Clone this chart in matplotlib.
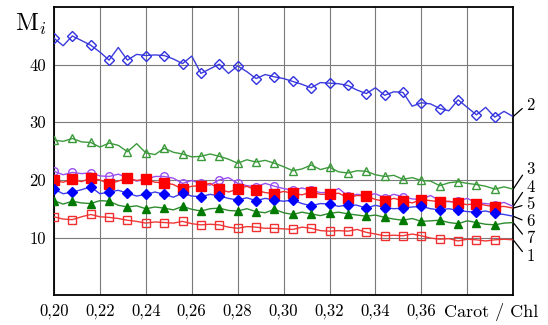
#!/usr/bin/env python3
"""Pigment index curves M_i against Carot/Chl."""

import matplotlib
matplotlib.use('Agg')
import matplotlib.pyplot as plt

plt.rcParams['font.family'] = ['cmr10', 'DejaVu Serif']
plt.rcParams['mathtext.fontset'] = 'cm'
plt.rcParams['axes.formatter.use_mathtext'] = True

# marker positions every 0.008, line points every 0.004
x_marks = [0.200, 0.208, 0.216, 0.224, 0.232, 0.240, 0.248, 0.256, 0.264,
           0.272, 0.280, 0.288, 0.296, 0.304, 0.312, 0.320, 0.328, 0.336,
           0.344, 0.352, 0.360, 0.368, 0.376, 0.384, 0.392]
x_between = [0.204, 0.212, 0.220, 0.228, 0.236, 0.244, 0.252, 0.260, 0.268,
             0.276, 0.284, 0.292, 0.300, 0.308, 0.316, 0.324, 0.332, 0.340,
             0.348, 0.356, 0.364, 0.372, 0.380, 0.388, 0.396, 0.400]

# values at markers and the jagged values in between (last one = line end)
s1_marks = [13.6, 13.1, 14.0, 13.5, 13.0, 12.5, 12.6, 12.8, 12.2, 12.2, 11.6, 11.8, 11.6,
            11.4, 11.6, 11.1, 11.1, 10.9, 10.3, 10.3, 10.3, 9.7, 9.4, 9.6, 9.6]
s1_between = [13.2, 13.6, 13.6, 13.3, 12.8, 12.7, 12.5, 12.4, 12.3, 11.8, 11.9, 11.6, 11.5,
              11.8, 11.2, 11.2, 11.4, 10.6, 10.4, 10.6, 9.9, 9.8, 9.7, 9.4, 9.7, 9.6]

s2_marks = [44.6, 45.0, 43.4, 40.8, 40.8, 41.6, 41.6, 40.2, 38.5, 40.1, 39.8, 37.6, 37.9,
            37.1, 36.0, 36.8, 36.4, 35.0, 34.7, 35.2, 33.4, 32.4, 33.9, 31.3, 30.9]
s2_between = [43.3, 44.2, 42.2, 43.0, 41.8, 41.7, 41.0, 41.5, 39.3, 38.5, 38.8, 38.3, 37.6,
              36.6, 36.9, 36.7, 35.6, 36.0, 35.3, 32.8, 33.2, 32.0, 32.6, 32.6, 31.9, 31.0]

s3_marks = [26.9, 27.2, 26.5, 26.4, 24.9, 24.7, 25.5, 24.5, 24.1, 24.1, 22.9, 23.1, 22.9,
            21.6, 22.6, 22.2, 21.2, 21.5, 20.6, 20.1, 19.9, 19.0, 19.7, 19.2, 18.4]
s3_between = [26.7, 26.6, 25.7, 26.0, 26.3, 24.4, 24.8, 24.0, 24.5, 23.6, 23.5, 23.4, 22.3,
              21.9, 21.8, 21.4, 21.6, 20.9, 20.8, 20.4, 19.8, 19.5, 19.4, 18.9, 18.8, 18.4]

s4_marks = [21.5, 21.3, 21.2, 20.6, 20.4, 20.1, 20.6, 19.4, 19.4, 20.0, 19.4, 18.8, 18.9,
            18.2, 18.2, 17.8, 17.2, 17.3, 16.9, 17.1, 16.6, 16.4, 16.3, 16.0, 15.7]
s4_between = [20.9, 21.1, 20.7, 21.0, 19.8, 20.6, 20.3, 19.9, 19.1, 20.4, 19.0, 19.4, 18.5,
              18.6, 17.8, 18.5, 17.5, 17.6, 17.5, 16.7, 17.3, 16.2, 16.8, 15.9, 16.1, 15.4]

s5_marks = [19.9, 20.1, 20.3, 19.3, 20.3, 20.1, 19.5, 18.4, 19.0, 18.4, 18.4, 18.2, 17.6,
            17.7, 17.9, 17.5, 16.9, 17.2, 16.3, 16.4, 16.6, 16.2, 16.0, 15.9, 15.3]
s5_between = [19.6, 19.7, 20.0, 19.8, 19.9, 19.6, 19.2, 18.9, 19.4, 17.9, 18.9, 17.8, 18.0,
              17.4, 17.5, 17.7, 17.3, 16.6, 16.8, 16.0, 16.4, 16.3, 15.7, 15.6, 15.4, 15.1]

s6_marks = [18.4, 17.9, 18.8, 17.9, 17.7, 17.5, 17.5, 17.7, 17.1, 17.2, 16.5, 16.4, 16.5,
            16.5, 15.5, 15.8, 15.7, 15.1, 15.2, 15.1, 15.4, 14.8, 14.7, 14.4, 14.2]
s6_between = [17.6, 18.3, 17.6, 18.2, 17.2, 17.9, 17.0, 17.2, 17.5, 16.8, 16.9, 16.8, 16.3,
              15.9, 15.9, 15.4, 15.6, 15.6, 15.0, 15.3, 15.0, 15.0, 14.5, 14.6, 14.0, 13.7]

s7_marks = [16.4, 16.3, 15.9, 16.3, 15.3, 15.0, 15.1, 15.4, 14.6, 15.1, 14.6, 14.5, 14.9,
            14.0, 14.1, 14.2, 14.1, 13.7, 13.5, 13.0, 12.8, 13.0, 12.4, 12.6, 12.2]
s7_between = [15.8, 16.0, 16.4, 15.6, 15.5, 15.3, 14.8, 14.9, 15.0, 14.7, 15.0, 14.3, 14.3,
              14.4, 13.8, 14.4, 13.9, 13.9, 13.2, 13.3, 12.9, 12.6, 12.9, 12.3, 12.5, 12.6]

x_grid = [0.20, 0.22, 0.24, 0.26, 0.28, 0.30, 0.32, 0.34, 0.36, 0.38]
x_tick_labels = ['0,20', '0,22', '0,24', '0,26', '0,28', '0,30', '0,32', '0,34', '0,36', '']
y_ticks = [10, 20, 30, 40]

# label, marks, between, line colour, marker, marker face, marker edge, size, label y (axes frac)
series = [
    ('2', s2_marks, s2_between, '#3c3cdc', 'D', 'none', '#3030e0', 5.0, 0.66),
    ('3', s3_marks, s3_between, '#3c9a3c', '^', 'none', '#3a9a3a', 5.5, 0.435),
    ('4', s4_marks, s4_between, '#9a50f0', 'o', 'none', '#9a50f0', 5.5, 0.375),
    ('5', s5_marks, s5_between, '#f03030', 's', '#ff0000', '#ff0000', 6.5, 0.315),
    ('6', s6_marks, s6_between, '#3c3cec', 'D', '#0000ff', '#0000ff', 4.8, 0.255),
    ('7', s7_marks, s7_between, '#2e8a2e', '^', '#007a00', '#007a00', 5.5, 0.196),
    ('1', s1_marks, s1_between, '#f03838', 's', 'none', '#f03030', 5.5, 0.135),
]


def main():
    fig = plt.figure(figsize=(5.48, 3.25), dpi=100)
    ax = fig.add_axes([0.0985, 0.092, 0.838, 0.886])

    for label, marks, between, lc, mk, mfc, mec, ms, ly in series:
        xs = [v for pair in zip(x_marks, x_between) for v in pair] + [x_between[-1]]
        ys = [v for pair in zip(marks, between) for v in pair] + [between[-1]]
        ax.plot(xs, ys, color=lc, lw=1.0, zorder=3)
        ax.plot(x_marks, marks, ls='none', marker=mk, ms=ms, mfc=mfc, mec=mec,
                mew=1.0, zorder=4)
        ax.annotate(label, xy=(0.400, between[-1]), xycoords='data',
                    xytext=(1.028, ly), textcoords='axes fraction',
                    fontsize=12, ha='left', va='center', annotation_clip=False,
                    arrowprops=dict(arrowstyle='-', lw=0.9, color='black',
                                    shrinkA=1, shrinkB=0, relpos=(0, 0.5)))

    ax.set_xlim(0.20, 0.40)
    ax.set_ylim(0, 50)
    ax.set_xticks(x_grid)
    ax.set_xticklabels(x_tick_labels)
    ax.set_yticks(y_ticks)
    ax.set_yticklabels([str(v) for v in y_ticks])
    ax.tick_params(length=0, labelsize=12, pad=6)
    ax.grid(True, color='#7a7a7a', lw=0.8)
    for sp in ax.spines.values():
        sp.set_linewidth(1.3)
        sp.set_color('black')

    fig.text(0.028, 0.925, r'$\mathrm{M}_i$', fontsize=18, ha='left', va='center')
    fig.text(0.81, 0.04, 'Carot / Chl', fontsize=13, ha='left', va='center')

    fig.savefig('out.png', dpi=100)
    plt.close(fig)


if __name__ == '__main__':
    main()
